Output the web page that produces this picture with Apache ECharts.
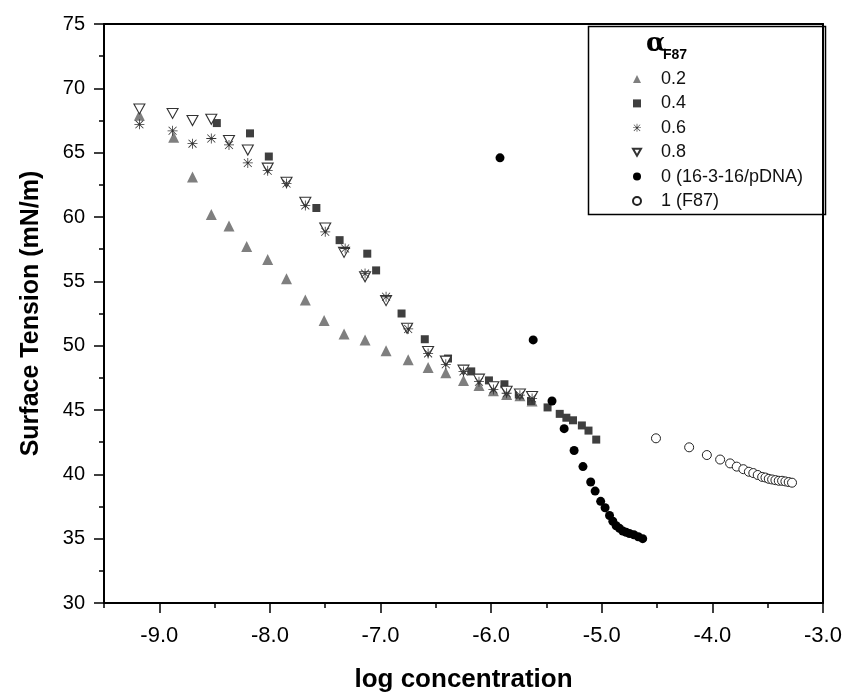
<!DOCTYPE html>
<html>
<head>
<meta charset="utf-8">
<script src="https://cdn.jsdelivr.net/npm/echarts@6/dist/echarts.min.js"></script>
<style>
html,body{margin:0;padding:0;background:#fff;}
#chart{width:849px;height:698px;}
</style>
</head>
<body>
<div id="chart"></div>
<script>
// ---- data ----
const seriesNames = ['0.2', '0.4', '0.6', '0.8', '0 (16-3-16/pDNA)', '1 (F87)'];
const xTickLabels = [-9, -8, -7, -6, -5, -4, -3];
const yTickLabels = [30, 35, 40, 45, 50, 55, 60, 65, 70, 75];

const a02 = [[-9.18,67.9],[-8.87,66.2],[-8.70,63.1],[-8.53,60.2],[-8.37,59.3],[-8.21,57.7],[-8.02,56.7],[-7.85,55.2],[-7.68,53.55],[-7.51,51.95],[-7.33,50.9],[-7.14,50.45],[-6.95,49.6],[-6.75,48.9],[-6.57,48.3],[-6.41,47.9],[-6.25,47.3],[-6.11,46.9],[-5.98,46.5],[-5.86,46.2],[-5.74,46.1],[-5.63,45.7]];
const a04 = [[-8.48,67.3],[-8.18,66.5],[-8.01,64.7],[-7.58,60.7],[-7.37,58.2],[-7.12,57.15],[-7.04,55.85],[-6.81,52.5],[-6.60,50.5],[-6.39,49.0],[-6.18,48.0],[-6.02,47.3],[-5.88,47.0],[-5.75,46.2],[-5.64,45.7],[-5.49,45.2],[-5.38,44.7],[-5.32,44.4],[-5.26,44.2],[-5.18,43.8],[-5.12,43.4],[-5.05,42.7]];
const a06 = [[-9.18,67.2],[-8.88,66.7],[-8.70,65.7],[-8.53,66.1],[-8.37,65.6],[-8.20,64.2],[-8.02,63.6],[-7.85,62.6],[-7.68,60.9],[-7.50,58.85],[-7.32,57.55],[-7.14,55.6],[-6.95,53.8],[-6.75,51.3],[-6.57,49.4],[-6.41,48.55],[-6.25,48.0],[-6.11,47.2],[-5.98,46.6],[-5.86,46.3],[-5.74,46.15],[-5.63,45.9]];
const a08 = [[-9.18,68.4],[-8.88,68.05],[-8.70,67.5],[-8.53,67.6],[-8.37,65.95],[-8.20,65.2],[-8.02,63.8],[-7.85,62.7],[-7.68,61.15],[-7.50,59.15],[-7.33,57.25],[-7.14,55.35],[-6.95,53.5],[-6.76,51.35],[-6.57,49.55],[-6.41,48.8],[-6.25,48.1],[-6.11,47.4],[-5.98,46.8],[-5.86,46.45],[-5.74,46.25],[-5.63,46.05]];
const a0 = [[-5.92,64.6],[-5.62,50.45],[-5.45,45.7],[-5.34,43.55],[-5.25,41.85],[-5.17,40.6],[-5.10,39.4],[-5.06,38.7],[-5.01,37.9],[-4.97,37.4],[-4.93,36.8],[-4.90,36.35],[-4.87,36.0],[-4.84,35.8],[-4.81,35.6],[-4.78,35.5],[-4.75,35.4],[-4.71,35.3],[-4.67,35.15],[-4.63,35.0]];
const a1 = [[-4.51,42.8],[-4.21,42.1],[-4.05,41.5],[-3.93,41.15],[-3.84,40.85],[-3.78,40.6],[-3.72,40.4],[-3.67,40.2],[-3.63,40.1],[-3.59,39.95],[-3.55,39.8],[-3.52,39.75],[-3.49,39.65],[-3.46,39.6],[-3.43,39.55],[-3.40,39.5],[-3.37,39.5],[-3.34,39.45],[-3.31,39.4],[-3.28,39.35]];

// ---- styles ----
const FONT = '"Liberation Sans", Arial, sans-serif';
const asterisk = 'path://M9.2 0L10.8 0L10.8 20L9.2 20Z M0 9.2L20 9.2L20 10.8L0 10.8Z M1.5 2.6L2.6 1.5L18.5 17.4L17.4 18.5Z M17.4 1.5L18.5 2.6L2.6 18.5L1.5 17.4Z';
const invTri = 'path://M0 0L20 0L10 17.3Z';

const chart = echarts.init(document.getElementById('chart'), null, {renderer: 'canvas'});
const axisLineStyle = {color: '#000', width: 2};

const option = {
  backgroundColor: '#fff',
  animation: false,
  grid: {left: 104, right: 26, top: 24, bottom: 95, containLabel: false},
  xAxis: [
    {
      type: 'value', min: -9.5, max: -3, interval: 0.5,
      axisLine: {show: true, onZero: false, lineStyle: axisLineStyle},
      axisTick: {show: true, length: 5, lineStyle: {color: '#000', width: 1.5}},
      axisLabel: {show: false},
      splitLine: {show: false}
    },
    {
      type: 'value', min: -9.5, max: -3, interval: 0.5, position: 'bottom',
      axisLine: {show: false, onZero: false},
      axisTick: {show: true, length: 10, customValues: xTickLabels, lineStyle: {color: '#000', width: 1.5}},
      axisLabel: {show: true, customValues: xTickLabels, margin: 22, fontFamily: FONT, fontSize: 22, color: '#000',
        formatter: v => Number(v).toFixed(1)},
      splitLine: {show: false},
      name: 'log concentration', nameLocation: 'middle', nameGap: 64,
      nameTextStyle: {fontFamily: FONT, fontSize: 26, fontWeight: 'bold', color: '#000'}
    },
    {
      type: 'value', min: -9.5, max: -3, position: 'top',
      axisLine: {show: true, onZero: false, lineStyle: axisLineStyle},
      axisTick: {show: false}, axisLabel: {show: false}, splitLine: {show: false}
    }
  ],
  yAxis: [
    {
      type: 'value', min: 30, max: 75, interval: 5,
      axisLine: {show: true, onZero: false, lineStyle: axisLineStyle},
      axisTick: {show: true, length: 10, lineStyle: {color: '#000', width: 1.5}},
      minorTick: {show: true, splitNumber: 2, length: 5, lineStyle: {color: '#000', width: 1.5}},
      axisLabel: {margin: 19, fontFamily: FONT, fontSize: 20, color: '#000'},
      splitLine: {show: false},
      name: 'Surface Tension (mN/m)', nameLocation: 'middle', nameGap: 60, nameRotate: 90,
      nameTextStyle: {fontFamily: FONT, fontSize: 25, fontWeight: 'bold', color: '#000'}
    },
    {
      type: 'value', min: 30, max: 75, position: 'right',
      axisLine: {show: true, onZero: false, lineStyle: axisLineStyle},
      axisTick: {show: false}, axisLabel: {show: false}, splitLine: {show: false}
    }
  ],
  legend: {
    orient: 'vertical', left: 627, top: 65,
    itemWidth: 8, itemHeight: 8, itemGap: 6.4,
    data: seriesNames,
    textStyle: {fontFamily: FONT, fontSize: 18, color: '#111', lineHeight: 18, padding: [0, 0, 0, 15]}
  },
  graphic: [
    {type: 'rect', left: 586, top: 24, shape: {width: 237, height: 188},
     style: {fill: 'none', stroke: '#000', lineWidth: 1.5}, z: 10},
    {type: 'text', left: 646, top: 31, style: {text: 'α', font: 'bold 26px "DejaVu Serif", serif', fill: '#000'}, z: 11},
    {type: 'text', left: 663, top: 48, style: {text: 'F87', font: 'bold 14px ' + FONT, fill: '#000'}, z: 11}
  ],
  series: [
    {name: seriesNames[0], type: 'scatter', data: a02, symbol: 'triangle', symbolSize: 11,
     itemStyle: {color: '#7f7f7f', opacity: 1}, z: 2},
    {name: seriesNames[1], type: 'scatter', data: a04, symbol: 'rect', symbolSize: 8,
     itemStyle: {color: '#3f3f3f', opacity: 1}, z: 2},
    {name: seriesNames[2], type: 'scatter', data: a06, symbol: asterisk, symbolSize: 10,
     itemStyle: {color: '#333', opacity: 1}, z: 4},
    {name: seriesNames[3], type: 'scatter', data: a08, symbol: invTri, symbolSize: [11, 10],
     itemStyle: {color: '#fff', borderColor: '#333', borderWidth: 1.1, opacity: 1}, z: 3},
    {name: seriesNames[4], type: 'scatter', data: a0, symbol: 'circle', symbolSize: 9,
     itemStyle: {color: '#000', opacity: 1}, z: 2},
    {name: seriesNames[5], type: 'scatter', data: a1, symbol: 'circle', symbolSize: 9,
     itemStyle: {color: '#fff', borderColor: '#222', borderWidth: 1, opacity: 1}, z: 2}
  ]
};
chart.setOption(option);
</script>
</body>
</html>
